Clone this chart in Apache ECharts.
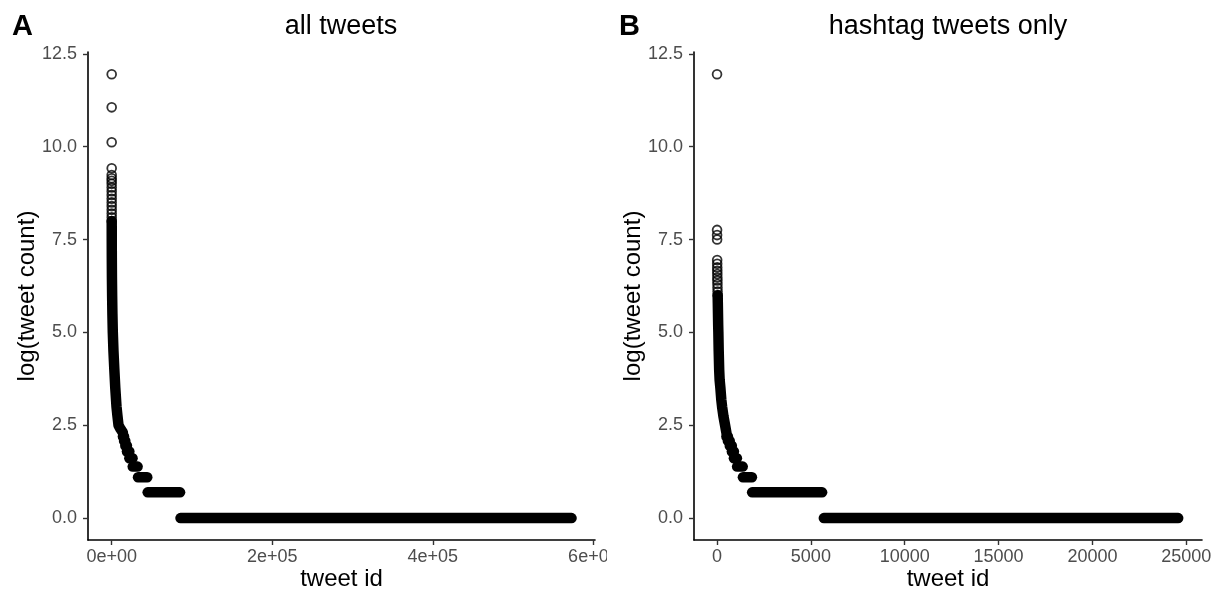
<!DOCTYPE html>
<html><head><meta charset="utf-8">
<script src="https://cdn.jsdelivr.net/npm/echarts@6/dist/echarts.min.js"></script>
<style>
html,body{margin:0;padding:0;background:#fff;}
#wrapA{position:absolute;left:0;top:0;width:607px;height:596px;overflow:hidden;}
#chartA{width:640px;height:596px;}
#chartB{position:absolute;left:607px;top:0;width:614px;height:596px;}
</style></head><body>
<div id="wrapA"><div id="chartA"></div></div>
<div id="chartB"></div>
<script>
// ---------- DATA ----------
// y ticks (log tweet count)
const yTicks = [0, 2.5, 5, 7.5, 10, 12.5];
const yTickLabels = ['0.0', '2.5', '5.0', '7.5', '10.0', '12.5'];

// Panel A: all tweets
const xTicksA = [0, 200000, 400000, 600000];
const xTickLabelsA = ['0e+00', '2e+05', '4e+05', '6e+05'];
// individual points [rank, log count]
const pointsA = [[1,11.95],[2,11.06],[3,10.12],[4,9.42],[5,9.24],[6,9.15],[7,9.08],[8,9.0],[10,8.9],[12,8.8],[14,8.7],[16,8.6],[18,8.5],[22,8.4],[26,8.3],[30,8.2],[35,8.1],[40,8.0]];
// dense descending curve [rank, log count]
const curveA = [[40,8.0],[80,7.5],[160,7.0],[300,6.5],[550,6.0],[900,5.5],[1400,5.0],[2200,4.5],[3300,4.0],[4500,3.5],[6000,3.0],[7200,2.75],[8500,2.5],[11000,2.4],[14000,2.3]];
// plateaus: [first rank, last rank, log count]
const runsA = [[14000,15400,2.197],[15400,17000,2.079],[17000,19000,1.946],[19000,22000,1.792],[22000,26000,1.609],[26200,32300,1.386],[32800,44300,1.099],[44800,85200,0.693],[85700,572800,0]];

// Panel B: hashtag tweets only
const xTicksB = [0, 5000, 10000, 15000, 20000, 25000];
const xTickLabelsB = ['0', '5000', '10000', '15000', '20000', '25000'];
const pointsB = [[1,11.95],[3,7.76],[4,7.62],[5,7.5],[8,6.95],[10,6.85],[12,6.75],[14,6.66],[16,6.57],[18,6.48],[20,6.4],[23,6.3],[26,6.2],[30,6.1],[35,6.0]];
const curveB = [[35,6.0],[42,5.8],[52,5.5],[62,5.2],[72,5.0],[90,4.5],[115,4.0],[140,3.72],[180,3.5],[230,3.18],[270,3.0],[340,2.75],[430,2.5],[500,2.3]];
const runsB = [[500,580,2.197],[580,680,2.079],[680,790,1.946],[790,900,1.792],[900,1060,1.609],[1070,1370,1.386],[1380,1860,1.099],[1870,5600,0.693],[5690,24570,0]];

// ---------- CHART ----------
const FONT = "'Liberation Sans', Arial, Helvetica, sans-serif";

function panel(p) {
  const series = [];
  p.runs.forEach(r => series.push({
    type: 'line', data: [[r[0], r[2]], [r[1], r[2]]], showSymbol: false, silent: true,
    lineStyle: { color: '#000', width: 10.5, cap: 'round' }, z: 2
  }));
  series.push({
    type: 'line', data: p.curve, showSymbol: false, silent: true,
    lineStyle: { color: '#000', width: 10.5, cap: 'round', join: 'round' }, z: 2
  });
  series.push({
    type: 'scatter', data: p.points, symbol: 'circle', symbolSize: 8.8, silent: true,
    itemStyle: { color: 'rgba(0,0,0,0)', borderColor: '#000', borderWidth: 1.8 }, z: 3
  });
  return {
    animation: false,
    textStyle: { fontFamily: FONT },
    grid: { left: p.gridLeft, top: 52, width: p.gridWidth, height: 488, outerBoundsMode: 'none', containLabel: false },
    xAxis: {
      type: 'value', min: p.xMin, max: p.xMax,
      name: 'tweet id', nameLocation: 'middle', nameGap: 27, nameMoveOverlap: false,
      nameTextStyle: { fontFamily: FONT, fontSize: 24, color: '#000' },
      axisLine: { onZero: false, lineStyle: { color: '#000', width: 1.6 } },
      axisTick: { length: 5, lineStyle: { color: '#333', width: 1.4 }, customValues: p.xTicks },
      axisLabel: {
        customValues: p.xTicks, color: '#4d4d4d', fontSize: 18, fontFamily: FONT, margin: 8,
        formatter: v => { const i = p.xTicks.indexOf(v); return i >= 0 ? p.xLabels[i] : ''; }
      },
      splitLine: { show: false }
    },
    yAxis: {
      type: 'value', min: -0.59, max: 12.55,
      name: 'log(tweet count)', nameLocation: 'middle', nameGap: 49, nameMoveOverlap: false,
      nameTextStyle: { fontFamily: FONT, fontSize: 24, color: '#000' },
      axisLine: { onZero: false, lineStyle: { color: '#000', width: 1.6 } },
      axisTick: { length: 5, lineStyle: { color: '#333', width: 1.4 }, customValues: yTicks },
      axisLabel: {
        customValues: yTicks, color: '#4d4d4d', fontSize: 18, fontFamily: FONT, margin: 11,
        formatter: v => { const i = yTicks.indexOf(v); return i >= 0 ? yTickLabels[i] : ''; }
      },
      splitLine: { show: false }
    },
    graphic: [
      { type: 'text', x: 12, y: 27, style: { text: p.tag, font: 'bold 29px ' + FONT, fill: '#000', verticalAlign: 'middle' } },
      { type: 'text', x: p.titleX, y: 27, style: { text: p.title, font: '27px ' + FONT, fill: '#000', align: 'center', verticalAlign: 'middle' } }
    ],
    series: series
  };
}

const chartA = echarts.init(document.getElementById('chartA'), null, { renderer: 'canvas' });
chartA.setOption(panel({
  tag: 'A', title: 'all tweets', titleX: 341,
  gridLeft: 88, gridWidth: 507, xMin: -29500, xMax: 602000,
  xTicks: xTicksA, xLabels: xTickLabelsA,
  points: pointsA, curve: curveA, runs: runsA
}));

const chartB = echarts.init(document.getElementById('chartB'), null, { renderer: 'canvas' });
chartB.setOption(panel({
  tag: 'B', title: 'hashtag tweets only', titleX: 341,
  gridLeft: 87, gridWidth: 508, xMin: -1226, xMax: 25837,
  xTicks: xTicksB, xLabels: xTickLabelsB,
  points: pointsB, curve: curveB, runs: runsB
}));
</script>
</body></html>
